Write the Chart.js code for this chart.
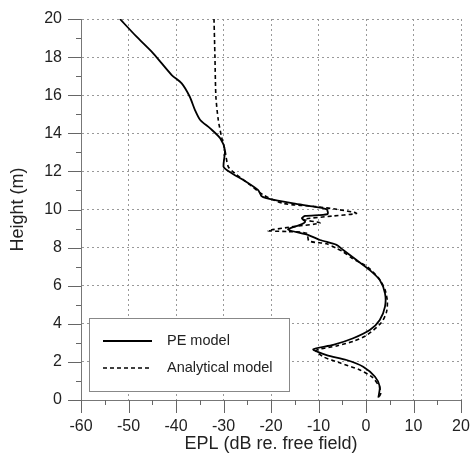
<!DOCTYPE html>
<html>
<head>
<meta charset="utf-8">
<script src="https://cdn.jsdelivr.net/npm/chart.js@4/dist/chart.umd.min.js"></script>
<style>
  html, body { margin: 0; padding: 0; background: #ffffff; }
  #wrap { width: 471px; height: 453px; position: relative; }
</style>
</head>
<body>
<div id="wrap"><canvas id="c" width="471" height="453"></canvas></div>
<script>
// PE model (solid) — EPL in dB, height in m
const peX = [-51.8, -48.3, -44.8, -40.9, -38.8, -37.1, -36.0, -34.9, -32.8, -30.7, -29.7, -30.0, -29.3, -27.6, -25.8, -22.7, -22.0, -21.0, -15.3, -11.0, -8.3, -8.1, -12.8, -13.5, -12.8, -13.9, -16.4, -12.1, -9.7, -6.2, -4.8, -2.0, 0.8, 2.9, 4.0, 4.0, 2.9, 0.8, -2.7, -6.9, -11.1, -8.3, -4.1, -0.6, 1.9, 2.9, 2.6];
const peY = [20.0, 19.07, 18.2, 17.06, 16.62, 15.92, 15.22, 14.7, 14.26, 13.74, 13.12, 12.25, 12.07, 11.8, 11.55, 11.02, 10.7, 10.6, 10.32, 10.15, 10.01, 9.76, 9.66, 9.54, 9.36, 9.19, 8.95, 8.66, 8.4, 8.14, 7.87, 7.35, 6.82, 6.3, 5.6, 4.9, 4.2, 3.67, 3.24, 2.89, 2.66, 2.36, 2.1, 1.75, 1.22, 0.7, 0.12];

// Analytical model (dashed)
const anX = [-32.0, -31.8, -31.6, -31.1, -30.4, -29.7, -29.0, -27.6, -24.4, -21.6, -17.4, -10.4, -6.2, -2.0, -6.9, -13.2, -9.7, -15.3, -20.6, -16.7, -12.5, -12.0, -8.3, -6.2, -4.8, -3.0, 0.5, 2.8, 4.0, 4.5, 4.3, 3.2, 0.2, -2.5, -6.0, -10.5, -9.0, -5.5, -1.5, 1.3, 2.8, 3.1, 2.6];
const anY = [20.0, 18.0, 15.92, 14.7, 13.8, 13.12, 12.25, 11.9, 11.29, 10.76, 10.32, 10.15, 10.01, 9.8, 9.66, 9.48, 9.29, 9.1, 8.89, 8.84, 8.75, 8.35, 8.2, 7.96, 7.78, 7.45, 6.95, 6.35, 5.8, 5.16, 4.6, 4.05, 3.41, 3.1, 2.85, 2.6, 2.27, 1.95, 1.6, 1.2, 0.7, 0.35, 0.1];

const seriesNames = ["PE model", "Analytical model"];
const xTitle = "EPL (dB re. free field)";
const yTitle = "Height (m)";

const FONT = "'Liberation Sans', Arial, Helvetica, sans-serif";
Chart.defaults.font.family = FONT;

const toPts = (xs, ys) => xs.map((x, i) => ({ x: x, y: ys[i] }));

// Minor/major tick marks drawn through the chart's own scales
const tickPlugin = {
  id: 'ticksMarks',
  afterDraw(chart) {
    const ctx = chart.ctx;
    const xs = chart.scales.x, ys = chart.scales.y;
    const ca = chart.chartArea;
    ctx.save();
    ctx.strokeStyle = '#666';
    ctx.lineWidth = 1;
    ctx.beginPath();
    for (let v = ys.min; v <= ys.max; v += 1) {
      const p = Math.round(ys.getPixelForValue(v)) + 0.5;
      const len = (v % 2 === 0) ? 13 : 5;
      ctx.moveTo(ca.left - len, p);
      ctx.lineTo(ca.left, p);
    }
    for (let v = xs.min; v <= xs.max; v += 5) {
      const p = Math.round(xs.getPixelForValue(v)) + 0.5;
      const len = (v % 10 === 0) ? 13 : 5;
      ctx.moveTo(p, ca.bottom);
      ctx.lineTo(p, ca.bottom + len);
    }
    ctx.stroke();
    ctx.restore();
  }
};

// Legend box inside plot area
const legendPlugin = {
  id: 'boxLegend',
  afterDraw(chart) {
    const ctx = chart.ctx;
    const bx = 89.5, by = 318.5, bw = 200, bh = 73;
    ctx.save();
    ctx.fillStyle = '#ffffff';
    ctx.fillRect(bx, by, bw, bh);
    ctx.strokeStyle = '#888';
    ctx.lineWidth = 1;
    ctx.strokeRect(bx, by, bw, bh);
    const rows = [341, 368];
    chart.data.datasets.forEach((ds, i) => {
      const yy = rows[i];
      ctx.strokeStyle = ds.borderColor;
      ctx.lineWidth = ds.borderWidth;
      ctx.setLineDash(ds.borderDash || []);
      ctx.beginPath();
      ctx.moveTo(103, yy);
      ctx.lineTo(152, yy);
      ctx.stroke();
      ctx.setLineDash([]);
      ctx.fillStyle = '#222';
      ctx.font = "14.5px " + FONT;
      ctx.textBaseline = 'middle';
      ctx.textAlign = 'left';
      ctx.fillText(ds.label, 167, yy);
    });
    ctx.restore();
  }
};

new Chart(document.getElementById('c'), {
  type: 'scatter',
  data: {
    datasets: [
      {
        label: seriesNames[0],
        data: toPts(peX, peY),
        showLine: true,
        borderColor: '#000',
        borderWidth: 1.8,
        pointRadius: 0,
        tension: 0.25,
        fill: false
      },
      {
        label: seriesNames[1],
        data: toPts(anX, anY),
        showLine: true,
        borderColor: '#000',
        borderWidth: 1.6,
        borderDash: [4, 3],
        pointRadius: 0,
        tension: 0.25,
        fill: false
      }
    ]
  },
  options: {
    responsive: false,
    animation: false,
    layout: { padding: { left: 0, right: 10, top: 19, bottom: 0 } },
    plugins: { legend: { display: false }, tooltip: { enabled: false } },
    scales: {
      x: {
        type: 'linear',
        min: -60, max: 20,
        afterFit(s) { s.height = 53; s.paddingLeft = 0; s.paddingRight = 0; s.paddingTop = 0; s.paddingBottom = 0; },
        ticks: { stepSize: 10, padding: 17, color: '#222', font: { size: 16 } },
        grid: { color: '#999', drawTicks: false, lineWidth: 1 },
        border: { display: true, color: '#777', width: 1, dash: [2, 3] },
        title: { display: true, text: xTitle, color: '#222', font: { size: 18, lineHeight: 1 }, padding: { top: 0, bottom: 0 } }
      },
      y: {
        type: 'linear',
        min: 0, max: 20,
        afterFit(s) { s.width = 81; s.paddingLeft = 0; s.paddingRight = 0; s.paddingTop = 0; s.paddingBottom = 0; },
        ticks: { stepSize: 2, padding: 19, color: '#222', font: { size: 16 } },
        grid: { color: '#999', drawTicks: false, lineWidth: 1 },
        border: { display: true, color: '#777', width: 1, dash: [2, 3] },
        title: { display: true, text: yTitle, color: '#222', font: { size: 18, lineHeight: 1 }, padding: { top: 9, bottom: 0 } }
      }
    }
  },
  plugins: [tickPlugin, legendPlugin]
});
</script>
</body>
</html>
